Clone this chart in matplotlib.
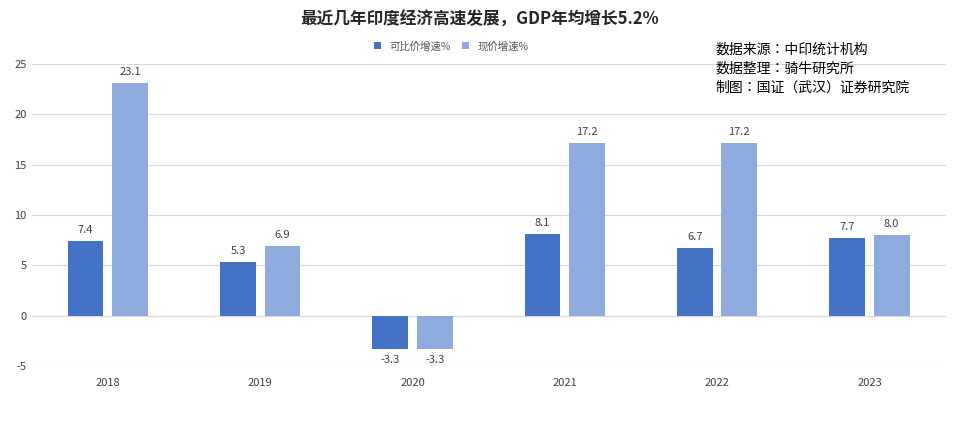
import matplotlib
matplotlib.use("Agg")
import matplotlib.pyplot as plt
from matplotlib import font_manager as fm
import numpy as np

cjk = [f for f in fm.fontManager.ttflist if 'CJK' in f.name]
names = sorted(set(f.name for f in cjk))
pick = next((n for n in names if n.endswith('SC')), names[0] if names else 'DejaVu Sans')
plt.rcParams['font.family'] = [pick, 'DejaVu Sans']
plt.rcParams['axes.unicode_minus'] = False

years = ['2018', '2019', '2020', '2021', '2022', '2023']
real_growth = [7.4, 5.3, -3.3, 8.1, 6.7, 7.7]
nominal_growth = [23.1, 6.9, -3.3, 17.2, 17.2, 8.0]
yticks = [-5, 0, 5, 10, 15, 20, 25]

fig = plt.figure(figsize=(9.6, 4.28), dpi=100)
ax = fig.add_axes([0.033, 0.145, 0.952, 0.705])
x = np.arange(len(years))
w = 0.235
off = 0.146
b1 = ax.bar(x - off, real_growth, w, color='#4472C4', label='可比价增速%', zorder=3)
b2 = ax.bar(x + off, nominal_growth, w, color='#8FAADC', label='现价增速%', zorder=3)
for bars, vals in ((b1, real_growth), (b2, nominal_growth)):
    for b, v in zip(bars, vals):
        y = v + 0.6 if v >= 0 else v - 0.6
        ax.text(b.get_x() + b.get_width() / 2, y, f'{v:.1f}', ha='center',
                va='bottom' if v >= 0 else 'top', fontsize=8, color='#404040')
ax.set_xlim(-0.5, 5.5)
ax.set_ylim(-5, 25)
ax.set_yticks(yticks)
ax.set_xticks(x)
ax.set_xticklabels(years)
ax.tick_params(length=0, labelsize=8, colors='#404040')
ax.tick_params(axis='x', pad=9)
ax.grid(axis='y', color='#D9D9D9', lw=0.8, zorder=0)
for s in ax.spines.values():
    s.set_visible(False)
ax.axhline(0, color='#D9D9D9', lw=0.8, zorder=1)

fig.text(0.5, 0.955, '最近几年印度经济高速发展，GDP年均增长5.2%', ha='center', va='center',
         fontsize=12, fontweight='bold', color='#262626')
fig.legend(handles=[b1, b2], loc='center', bbox_to_anchor=(0.47, 0.892), ncol=2, frameon=False,
           fontsize=7.5, handlelength=0.7, handleheight=0.7, columnspacing=1.0, labelcolor='#595959')
fig.text(0.745, 0.84, '数据来源：中印统计机构\n数据整理：骑牛研究所\n制图：国证（武汉）证券研究院',
         ha='left', va='center', fontsize=10, linespacing=1.45, color='#000000')
fig.savefig('out.png', dpi=100)
